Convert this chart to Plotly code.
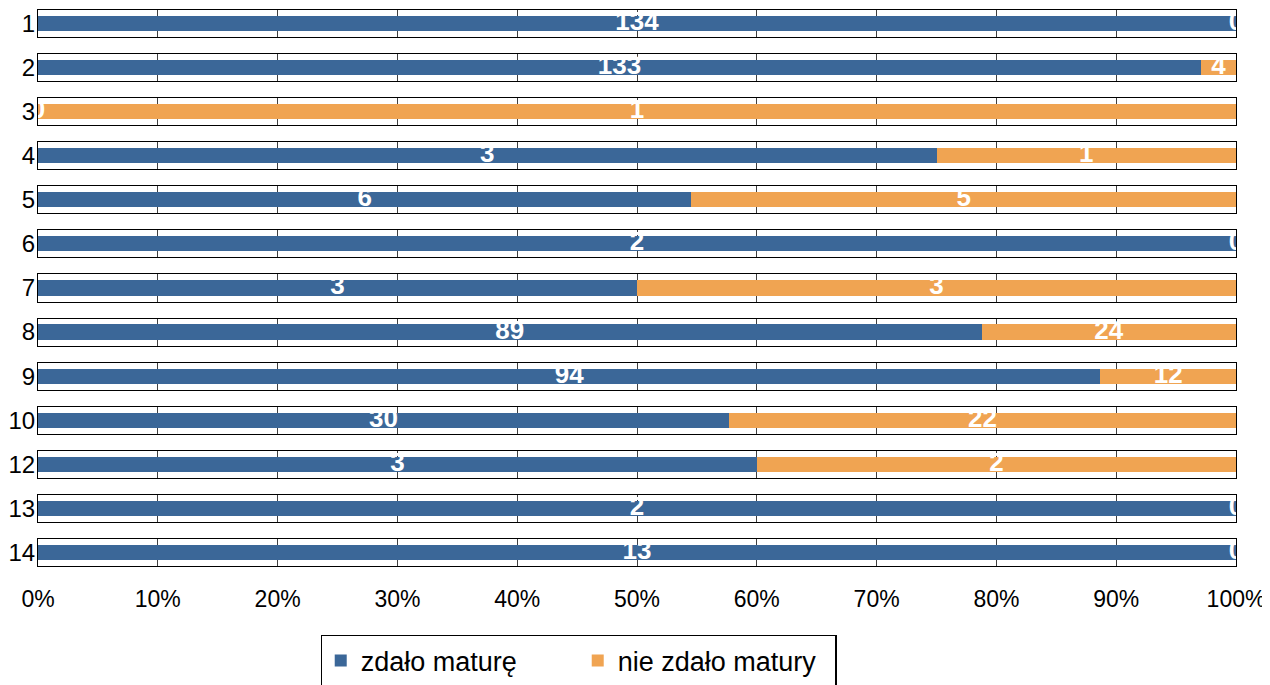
import plotly.graph_objs as go
from plotly.subplots import make_subplots

# dane: klasy i liczba uczniów
rows = ["1", "2", "3", "4", "5", "6", "7", "8", "9", "10", "12", "13", "14"]
passed = [134, 133, 0, 3, 6, 2, 3, 89, 94, 30, 3, 2, 13]
failed = [0, 4, 1, 1, 5, 0, 3, 24, 12, 22, 2, 0, 0]
series_names = ["zdało maturę", "nie zdało matury"]
tick_vals = [i / 10 for i in range(11)]
tick_text = [f"{i * 10}%" for i in range(11)]

colors = {"blue": "#3b6798", "orange": "#f0a452", "grid": "#404040"}

fig = make_subplots(rows=len(rows), cols=1, shared_xaxes=True, vertical_spacing=0.0306)

for i, name in enumerate(rows):
    r = i + 1
    total = passed[i] + failed[i]
    share_p = passed[i] / total
    share_f = failed[i] / total
    fig.add_trace(go.Bar(x=[share_p], y=[name], orientation="h", width=0.56,
                         marker=dict(color=colors["blue"], line=dict(width=0)),
                         name=series_names[0], legendgroup="p", showlegend=(i == 0),
                         hoverinfo="skip"), row=r, col=1)
    fig.add_trace(go.Bar(x=[share_f], y=[name], orientation="h", width=0.56,
                         marker=dict(color=colors["orange"], line=dict(width=0)),
                         name=series_names[1], legendgroup="f", showlegend=(i == 0),
                         hoverinfo="skip"), row=r, col=1)
    # etykiety w środku segmentów
    fig.add_trace(go.Scatter(x=[share_p / 2, share_p + share_f / 2], y=[name, name],
                             mode="text", text=[str(passed[i]), str(failed[i])],
                             textfont=dict(color="white", size=26, family="Liberation Sans"),
                             texttemplate="<b>%{text}</b>", cliponaxis=True,
                             showlegend=False, hoverinfo="skip"), row=r, col=1)
    fig.update_xaxes(range=[0, 1], tickvals=tick_vals, ticktext=tick_text,
                     showgrid=True, gridcolor=colors["grid"], gridwidth=1,
                     showline=True, linecolor="black", linewidth=1, mirror=True,
                     zeroline=False, showticklabels=(r == len(rows)), ticks="",
                     tickfont=dict(size=23), ticklabelstandoff=12,
                     automargin=False, row=r, col=1)
    fig.update_yaxes(range=[-0.5, 0.5], showline=True, linecolor="black", linewidth=1,
                     mirror=True, ticks="", showgrid=False, fixedrange=True,
                     tickfont=dict(size=24), automargin=False, ticklabelstandoff=-3,
                     row=r, col=1)

# strona ma 8px marginesu body, stąd mniejsze wymiary
fig.update_layout(
    barmode="stack",
    width=1262, height=677,
    paper_bgcolor="white", plot_bgcolor="white",
    margin=dict(l=30, r=34, t=2, b=119, autoexpand=False),
    font=dict(family="Liberation Sans", size=22, color="black"),
    legend=dict(orientation="h", x=0.236, xanchor="left", y=-0.124, yanchor="top",
                bordercolor="black", borderwidth=1.5, font=dict(size=27),
                entrywidth=212, entrywidthmode="pixels", itemsizing="constant"),
)

fig.write_html("out.html")
